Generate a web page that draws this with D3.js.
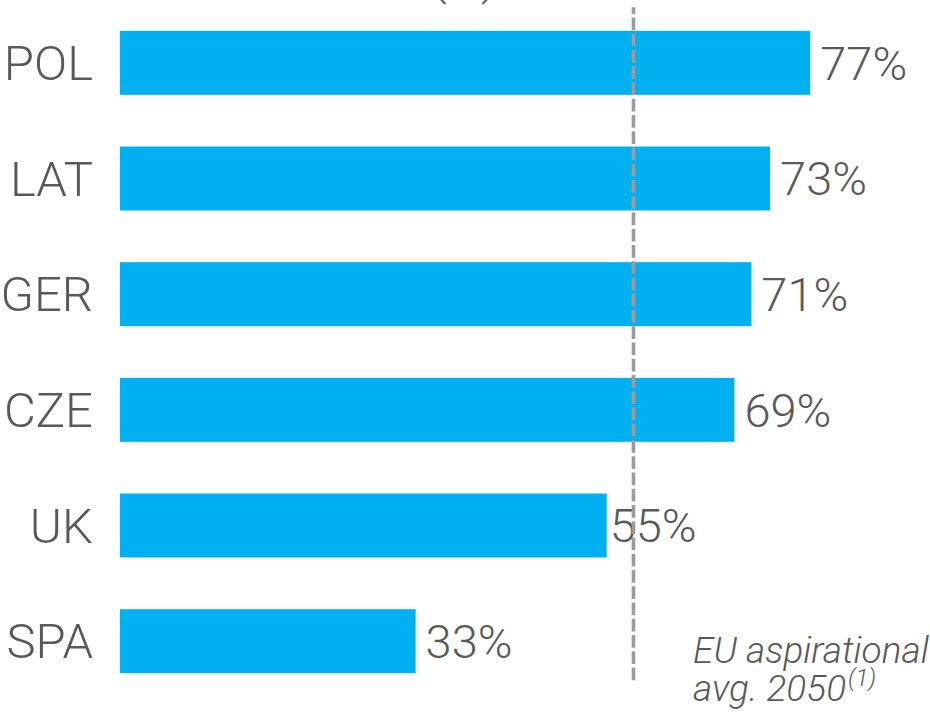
<!DOCTYPE html>
<html>
<head>
<meta charset="utf-8">
<script src="https://cdn.jsdelivr.net/npm/d3@7/dist/d3.min.js"></script>
<style>
  html, body { margin: 0; padding: 0; background: #fff; }
  svg { display: block; font-family: "Roboto Light", Roboto, "Noto Sans", sans-serif; }
</style>
</head>
<body>
<svg id="chart" width="930" height="714"></svg>
<script>
const categories = ["POL", "LAT", "GER", "CZE", "UK", "SPA"];
const values = [77.3, 72.8, 70.7, 68.8, 54.5, 33.1];
const valueLabels = ["77%", "73%", "71%", "69%", "55%", "33%"];
const euAverage = 57.5;
const annotationLines = ["EU aspirational", "avg. 2050"];
const annotationNote = "(1)";
const titleFragment = "(%)";

const svg = d3.select("#chart");
const textColor = "#595959";
const fontFam = "'Roboto Light', Roboto, 'Noto Sans', sans-serif";

const x = d3.scaleLinear().domain([0, 100]).range([120, 1013]);
const y = d3.scaleBand().domain(categories).range([5, 699])
  .paddingInner(0.447).paddingOuter(0.2235);

// cut-off title fragment
svg.append("text")
  .attr("x", 464).attr("y", -6)
  .attr("text-anchor", "middle")
  .attr("font-size", 47).attr("font-weight", 300)
  .attr("fill", textColor)
  .text(titleFragment);

// bars
svg.selectAll("rect.bar").data(categories).join("rect")
  .attr("class", "bar")
  .attr("x", x(0))
  .attr("y", d => y(d))
  .attr("width", (d, i) => x(values[i]) - x(0))
  .attr("height", y.bandwidth())
  .attr("fill", "#00B0F0");

// category axis
const yAxis = svg.append("g")
  .attr("transform", `translate(${x(0) - 27},0)`)
  .call(d3.axisLeft(y).tickSize(0).tickPadding(0));
yAxis.select(".domain").remove();
yAxis.selectAll("text")
  .attr("font-size", 49).attr("font-weight", 300)
  .attr("font-family", fontFam)
  .attr("fill", textColor)
  .attr("dy", "0.35em");

// value labels (UK label sits closer to its bar, as in the source)
const labelGap = d => d === "UK" ? 3 : 10;
svg.selectAll("text.val").data(categories).join("text")
  .attr("class", "val")
  .attr("x", (d, i) => x(values[i]) + labelGap(d))
  .attr("y", d => y(d) + y.bandwidth() / 2)
  .attr("dy", "0.36em")
  .attr("font-size", 47).attr("font-weight", 300)
  .attr("fill", textColor)
  .text((d, i) => valueLabels[i]);

// EU average dashed line
svg.append("line")
  .attr("x1", x(euAverage)).attr("x2", x(euAverage))
  .attr("y1", 7.3).attr("y2", 680.5)
  .attr("stroke", "#9b9b9b")
  .attr("stroke-width", 3.6)
  .attr("stroke-dasharray", "12.7 3.55")
  .attr("stroke-dashoffset", 6);

// annotation
const annAttrs = sel => sel
  .attr("font-size", 37).attr("font-weight", 300)
  .attr("font-style", "italic")
  .attr("fill", textColor);
svg.append("text").call(annAttrs)
  .attr("x", 693).attr("y", 663).text(annotationLines[0]);
const line2 = svg.append("text").call(annAttrs)
  .attr("x", 693).attr("y", 701).text(annotationLines[1]);
const w2 = line2.node().getComputedTextLength();
svg.append("text").call(annAttrs)
  .attr("font-size", 24)
  .attr("x", 693 + w2 + 2).attr("y", 686)
  .text(annotationNote);
</script>
</body>
</html>
